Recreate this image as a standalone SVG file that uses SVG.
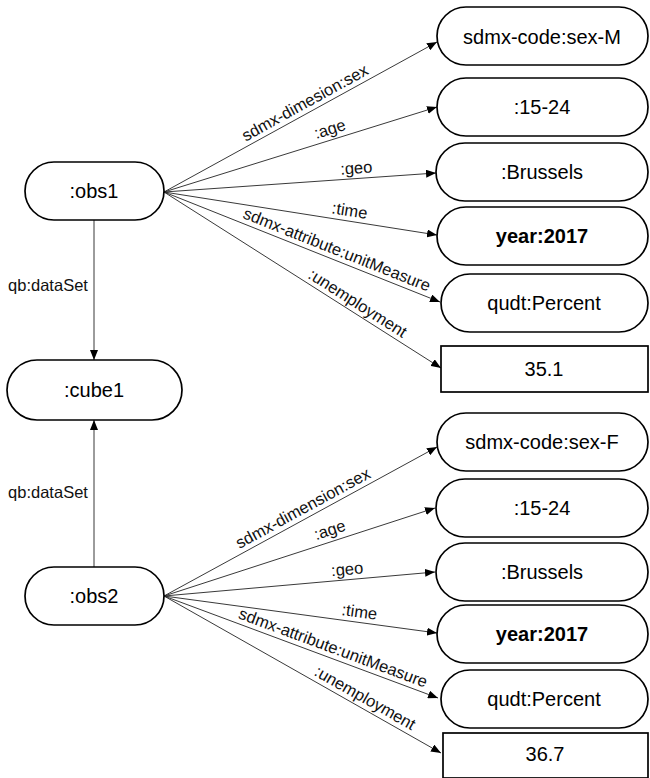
<svg xmlns="http://www.w3.org/2000/svg" width="650" height="778" viewBox="0 0 650 778">
  <defs>
    <marker id="arrow" viewBox="0 0 10 8" refX="10" refY="4" markerWidth="10" markerHeight="8" markerUnits="userSpaceOnUse" orient="auto">
      <path d="M0,0 L10,4 L0,8 z" fill="#000"/>
    </marker>
    <style>
      .pill { fill: #fff; stroke: #000; stroke-width: 1.7; }
      .box { fill: #fff; stroke: #000; stroke-width: 1.7; }
      .ntext { font-family: "Liberation Sans", Arial, sans-serif; font-size: 20px; fill: #000; text-anchor: middle; dominant-baseline: central; }
      .bold { font-weight: bold; }
      .edge { stroke: #222; stroke-width: 0.9; fill: none; marker-end: url(#arrow); }
      .elabel { font-family: "Liberation Sans", Arial, sans-serif; font-size: 16.5px; fill: #111; text-anchor: middle; }
    </style>
  </defs>
  <rect width="650" height="778" fill="#fff"/>

  <!-- connectors -->
  <g id="connectors">
    <!-- obs1 to cube1 -->
    <line class="edge" x1="94" y1="220" x2="94" y2="360"/>
    <text class="elabel" x="48" y="291">qb:dataSet</text>
    <!-- obs2 to cube1 -->
    <line class="edge" x1="94" y1="567" x2="94" y2="420"/>
    <text class="elabel" x="48" y="498">qb:dataSet</text>

    <!-- obs1 properties -->
    <line class="edge" x1="164" y1="192" x2="437" y2="42"/>
    <line class="edge" x1="164" y1="192" x2="437" y2="107"/>
    <line class="edge" x1="164" y1="192" x2="436" y2="173"/>
    <line class="edge" x1="164" y1="192" x2="437" y2="235"/>
    <line class="edge" x1="164" y1="192" x2="440" y2="302"/>
    <line class="edge" x1="164" y1="192" x2="441" y2="368"/>
    <text class="elabel" transform="translate(310,112) rotate(-28.8)" y="-5">sdmx-dimesion:sex</text>
    <text class="elabel" transform="translate(333,139) rotate(-17.3)" y="-5">:age</text>
    <text class="elabel" transform="translate(357,178.5) rotate(-4)" y="-5">:geo</text>
    <text class="elabel" transform="translate(348,221) rotate(8.95)" y="-5">:time</text>
    <text class="elabel" transform="translate(333,259.4) rotate(21.7)" y="-5">sdmx-attribute:unitMeasure</text>
    <text class="elabel" transform="translate(352,312) rotate(32.5)" y="-5">:unemployment</text>

    <!-- obs2 properties -->
    <line class="edge" x1="164" y1="596" x2="437" y2="447"/>
    <line class="edge" x1="164" y1="596" x2="435" y2="508"/>
    <line class="edge" x1="164" y1="596" x2="435" y2="572"/>
    <line class="edge" x1="164" y1="596" x2="437" y2="633"/>
    <line class="edge" x1="164" y1="596" x2="438" y2="698"/>
    <line class="edge" x1="164" y1="596" x2="441" y2="753"/>
    <text class="elabel" transform="translate(308,517.4) rotate(-28.6)" y="-5">sdmx-dimension:sex</text>
    <text class="elabel" transform="translate(333,540) rotate(-18)" y="-5">:age</text>
    <text class="elabel" transform="translate(348,579.7) rotate(-5.06)" y="-5">:geo</text>
    <text class="elabel" transform="translate(358,622.3) rotate(7.7)" y="-5">:time</text>
    <text class="elabel" transform="translate(329.5,657.6) rotate(20.4)" y="-5">sdmx-attribute:unitMeasure</text>
    <text class="elabel" transform="translate(360,707) rotate(29.5)" y="-5">:unemployment</text>
  </g>

  <!-- subject nodes -->
  <g id="obs1">
    <rect class="pill" x="25" y="162" width="139" height="58" rx="29"/>
    <text class="ntext" x="94" y="191">:obs1</text>
  </g>
  <g id="cube1">
    <rect class="pill" x="7" y="360" width="175" height="60" rx="30"/>
    <text class="ntext" x="94" y="390">:cube1</text>
  </g>
  <g id="obs2">
    <rect class="pill" x="25" y="567" width="139" height="58" rx="29"/>
    <text class="ntext" x="94" y="596">:obs2</text>
  </g>

  <!-- objects of obs1 -->
  <g id="sexM">
    <rect class="pill" x="437" y="7" width="211" height="58" rx="29"/>
    <text class="ntext" x="542" y="37">sdmx-code:sex-M</text>
  </g>
  <g id="age1">
    <rect class="pill" x="437" y="78" width="211" height="58" rx="29"/>
    <text class="ntext" x="542" y="107">:15-24</text>
  </g>
  <g id="geo1">
    <rect class="pill" x="436" y="143" width="212" height="58" rx="29"/>
    <text class="ntext" x="542" y="172">:Brussels</text>
  </g>
  <g id="time1">
    <rect class="pill" x="437" y="207" width="211" height="58" rx="29"/>
    <text class="ntext bold" x="542" y="236">year:2017</text>
  </g>
  <g id="unit1">
    <rect class="pill" x="441" y="274" width="207" height="58" rx="29"/>
    <text class="ntext" x="544" y="303">qudt:Percent</text>
  </g>
  <g id="value1">
    <rect class="box" x="441" y="346" width="207" height="46"/>
    <text class="ntext" x="544" y="369">35.1</text>
  </g>

  <!-- objects of obs2 -->
  <g id="sexF">
    <rect class="pill" x="437" y="413" width="211" height="58" rx="29"/>
    <text class="ntext" x="542" y="442">sdmx-code:sex-F</text>
  </g>
  <g id="age2">
    <rect class="pill" x="436" y="479" width="212" height="58" rx="29"/>
    <text class="ntext" x="542" y="508">:15-24</text>
  </g>
  <g id="geo2">
    <rect class="pill" x="436" y="543" width="212" height="58" rx="29"/>
    <text class="ntext" x="542" y="572">:Brussels</text>
  </g>
  <g id="time2">
    <rect class="pill" x="437" y="605" width="211" height="58" rx="29"/>
    <text class="ntext bold" x="542" y="634">year:2017</text>
  </g>
  <g id="unit2">
    <rect class="pill" x="441" y="670" width="207" height="58" rx="29"/>
    <text class="ntext" x="544" y="699">qudt:Percent</text>
  </g>
  <g id="value2">
    <rect class="box" x="443" y="733" width="205" height="45"/>
    <text class="ntext" x="545" y="754">36.7</text>
  </g>
</svg>
